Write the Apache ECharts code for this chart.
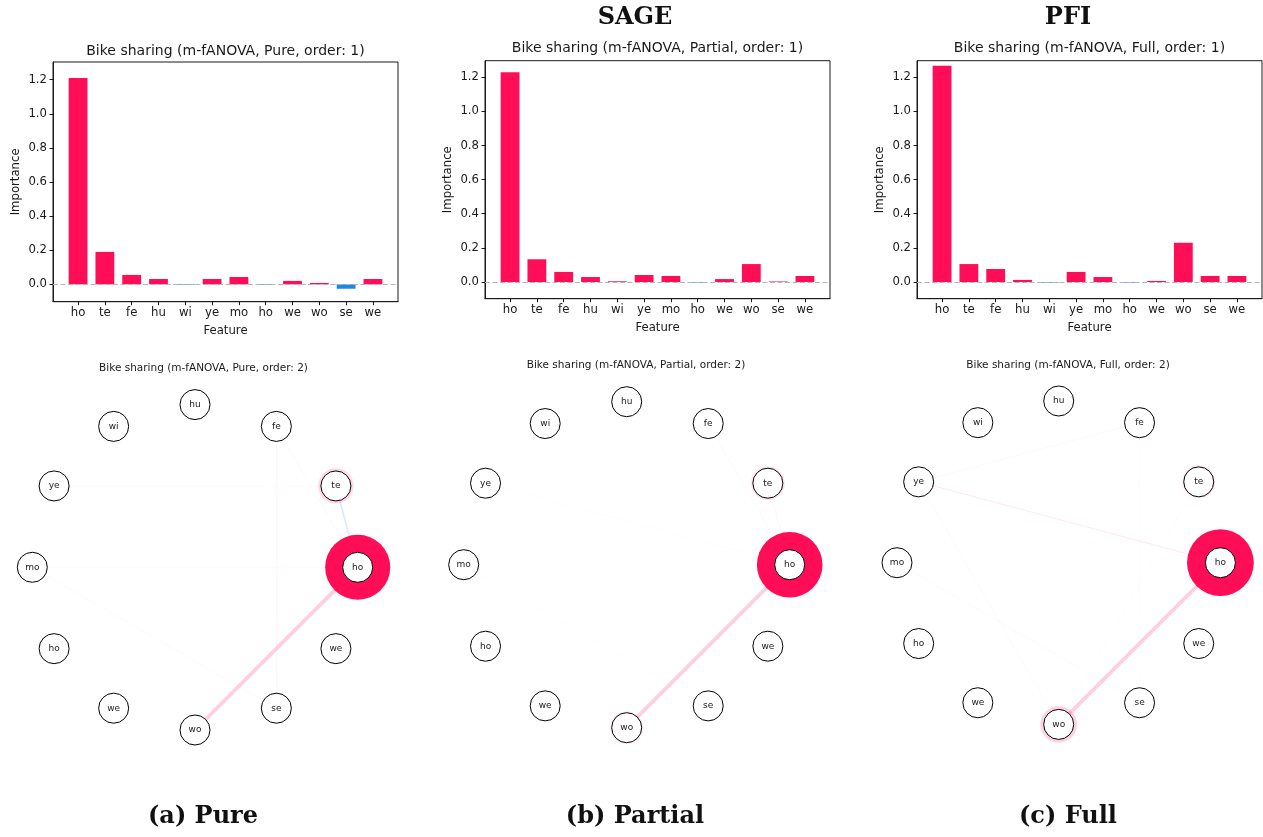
<!DOCTYPE html>
<html>
<head>
<meta charset="utf-8">
<script src="https://cdn.jsdelivr.net/npm/echarts@6/dist/echarts.min.js"></script>
<style>
  html, body { margin: 0; padding: 0; background: #fff; }
  #chart { width: 1263px; height: 837px; }
</style>
</head>
<body>
<div id="chart"></div>
<script>
// Feature abbreviations (bike sharing dataset), in plotting order
const features = ['ho', 'te', 'fe', 'hu', 'wi', 'ye', 'mo', 'ho', 'we', 'wo', 'se', 'we'];

// First-order importances per decomposition
const mainPure    = [1.210, 0.190, 0.055, 0.031, -0.004, 0.031, 0.043, -0.004, 0.020, 0.008, -0.026, 0.031];
const mainPartial = [1.229, 0.133, 0.059, 0.029,  0.004, 0.041, 0.035, -0.004, 0.017, 0.105,  0.003, 0.035];
const mainFull    = [1.268, 0.105, 0.076, 0.012, -0.004, 0.059, 0.029, -0.004, 0.006, 0.230,  0.035, 0.035];

// Second-order interactions: [feature i, feature j, importance]
const pairPure = [
  [0, 9, 0.25], [0, 1, -0.10], [0, 2, -0.03], [2, 10, 0.03],
  [5, 1, 0.015], [6, 10, 0.02], [6, 0, 0.01], [3, 0, 0.008]
];
const pairPartial = [
  [0, 9, 0.25], [0, 1, -0.04], [0, 2, -0.025], [3, 0, -0.01],
  [5, 0, 0.012], [6, 10, 0.015]
];
const pairFull = [
  [0, 9, 0.25], [5, 0, 0.06], [5, 2, 0.02], [2, 1, 0.02],
  [5, 9, 0.02], [6, 9, 0.015], [6, 10, 0.02], [1, 9, 0.015],
  [2, 10, 0.01], [3, 0, 0.01]
];

const yTicks = [0, 0.2, 0.4, 0.6, 0.8, 1.0, 1.2];
const decompositions = ['Pure', 'Partial', 'Full'];
const captions = ['(a) Pure', '(b) Partial', '(c) Full'];
const columnHeads = ['', 'SAGE', 'PFI'];

const POS = '#ff0d57';
const NEG = '#1e88e5';
const INK = '#1a1a1a';
const SANS = '"DejaVu Sans", sans-serif';
const SERIF = '"DejaVu Serif", serif';

// Layout of each column: bar panel box and circle-graph box
const columns = [
  { bar: { left: 53,  top: 62,   width: 345, height: 239.7 }, yMin: -0.102, yMax: 1.304,
    barTitleY: 51.7, graph: { left: 32.3, top: 404.6, size: 325.4 }, graphTitleY: 368,
    graphTitleX: 203.5, headX: 203, main: mainPure, pairs: pairPure },
  { bar: { left: 485, top: 60.7, width: 345, height: 238 }, yMin: -0.098, yMax: 1.297,
    barTitleY: 48.3, graph: { left: 463.7, top: 401.7, size: 326 }, graphTitleY: 365,
    graphTitleX: 636, headX: 635, main: mainPartial, pairs: pairPartial },
  { bar: { left: 917, top: 60.7, width: 345, height: 238 }, yMin: -0.098, yMax: 1.297,
    barTitleY: 48.3, graph: { left: 897, top: 401, size: 323.4 }, graphTitleY: 365,
    graphTitleX: 1068, headX: 1068, main: mainFull, pairs: pairFull }
];

// circular layout positions on the unit circle, counter-clockwise from the right
const unitCircle = features.map((f, i) => {
  const a = 2 * Math.PI * i / features.length;
  return [Math.cos(a), Math.sin(a)];
});
const featIdx = features.map((f, i) => i);

const grid = [], xAxis = [], yAxis = [], series = [], graphic = [];

function text(t, x, y, font, color) {
  graphic.push({
    type: 'text', x: x, y: y, silent: true,
    style: { text: t, font: font, fill: color || INK,
             align: 'center', verticalAlign: 'middle',
             textAlign: 'center', textVerticalAlign: 'middle' }
  });
}

columns.forEach((c, k) => {
  // ---------- first-order bar panel ----------
  const gb = grid.length;
  grid.push(Object.assign({ show: true, borderColor: INK, borderWidth: 1,
                            backgroundColor: 'transparent' }, c.bar));
  xAxis.push({
    gridIndex: gb, type: 'value', min: -0.935, max: 11.935,
    splitLine: { show: false },
    axisLine: { show: true, onZero: false, lineStyle: { color: INK, width: 1 } },
    axisTick: { show: true, length: 3.5, customValues: featIdx, lineStyle: { color: INK } },
    axisLabel: { customValues: featIdx, formatter: v => features[Math.round(v)],
                 fontFamily: SANS, fontSize: 11.7, color: INK, margin: 5 },
    name: 'Feature', nameLocation: 'middle', nameGap: 23,
    nameTextStyle: { fontFamily: SANS, fontSize: 11.7, color: INK }
  });
  yAxis.push({
    gridIndex: gb, type: 'value', min: c.yMin, max: c.yMax,
    splitLine: { show: false },
    axisLine: { show: true, onZero: false, lineStyle: { color: INK, width: 1 } },
    axisTick: { show: true, length: 3.5, customValues: yTicks, lineStyle: { color: INK } },
    axisLabel: { customValues: yTicks, formatter: v => v.toFixed(1),
                 fontFamily: SANS, fontSize: 11.7, color: INK, margin: 6 },
    name: 'Importance', nameLocation: 'middle', nameGap: 31,
    nameTextStyle: { fontFamily: SANS, fontSize: 11.7, color: INK }
  });
  series.push({
    type: 'bar', xAxisIndex: gb, yAxisIndex: gb, barWidth: 18.8,
    data: c.main.map((v, i) => ({ value: [i, v], itemStyle: { color: v >= 0 ? POS : NEG } })),
    markLine: {
      silent: true, symbol: 'none', label: { show: false },
      lineStyle: { color: '#b5b5b5', type: [5, 2.5], width: 1.2 },
      data: [{ yAxis: 0 }]
    }
  });
  const bx = c.bar.left + c.bar.width / 2;
  text('Bike sharing (m-fANOVA, ' + decompositions[k] + ', order: 1)', bx, c.barTitleY,
       '14px ' + SANS);

  // ---------- second-order circle graph ----------
  const gg = grid.length;
  grid.push({ left: c.graph.left, top: c.graph.top, width: c.graph.size, height: c.graph.size });
  xAxis.push({ gridIndex: gg, type: 'value', min: -1, max: 1, show: false });
  yAxis.push({ gridIndex: gg, type: 'value', min: -1, max: 1, show: false });

  // interaction edges: width and opacity grow with |importance|
  series.push({
    type: 'graph', coordinateSystem: 'cartesian2d', xAxisIndex: gg, yAxisIndex: gg,
    z: 1, silent: true, symbolSize: 0, label: { show: false },
    data: unitCircle.map((p, i) => ({ name: 'n' + k + '_' + i, value: p })),
    links: c.pairs.map(([i, j, v]) => ({
      source: i, target: j,
      lineStyle: {
        color: v >= 0 ? POS : NEG,
        width: Math.max(0.6, 15 * Math.abs(v)),
        opacity: Math.min(0.2, 0.015 + 1.6 * Math.abs(v)),
        curveness: 0
      }
    }))
  });

  // first-order halo around each node
  const maxMain = Math.max(...c.main.map(Math.abs));
  series.push({
    type: 'scatter', xAxisIndex: gg, yAxisIndex: gg, z: 2, silent: true,
    data: c.main.map((v, i) => ({
      value: unitCircle[i],
      symbolSize: 2 * (15 + 14.5 * Math.abs(v)),
      itemStyle: { color: v >= 0 ? POS : NEG, opacity: Math.abs(v) / maxMain }
    }))
  });

  // feature nodes
  series.push({
    type: 'scatter', xAxisIndex: gg, yAxisIndex: gg, z: 3, silent: true,
    symbolSize: 30,
    itemStyle: { color: '#fff', borderColor: '#000', borderWidth: 1, opacity: 1 },
    label: { show: true, position: 'inside', formatter: p => features[p.dataIndex],
             fontFamily: SANS, fontSize: 9, color: INK },
    data: unitCircle.map(p => p)
  });
  text('Bike sharing (m-fANOVA, ' + decompositions[k] + ', order: 2)', c.graphTitleX, c.graphTitleY,
       '10.5px ' + SANS);

  // column heading and caption
  if (columnHeads[k]) text(columnHeads[k], c.headX, 18, 'bold 24px ' + SERIF, '#111');
  text(captions[k], c.headX, 817, 'bold 24px ' + SERIF, '#111');
});

const chart = echarts.init(document.getElementById('chart'), null, { renderer: 'canvas' });
chart.setOption({
  animation: false,
  backgroundColor: '#fff',
  grid: grid, xAxis: xAxis, yAxis: yAxis, series: series, graphic: graphic
});
</script>
</body>
</html>
